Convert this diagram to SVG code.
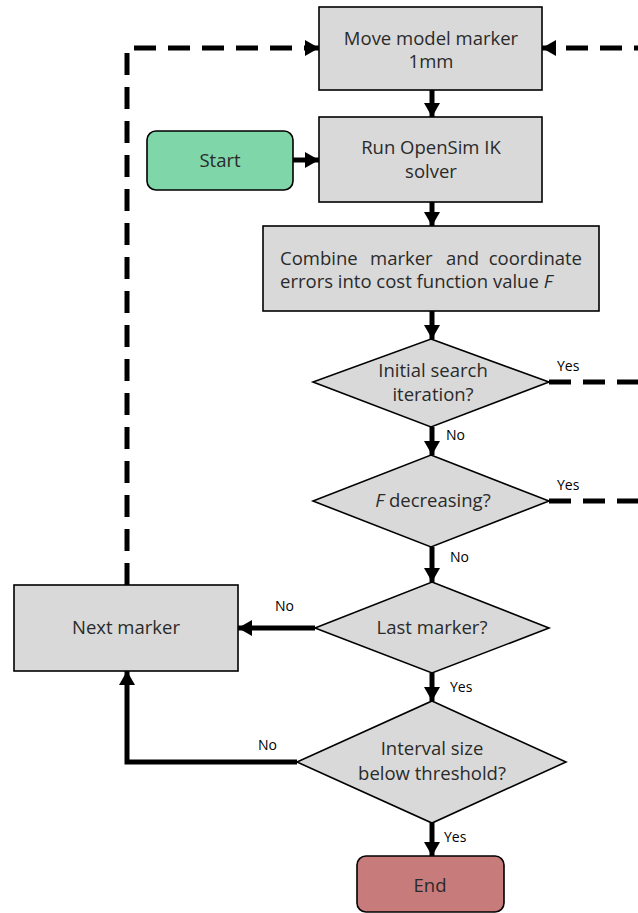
<svg xmlns="http://www.w3.org/2000/svg" width="638" height="913" viewBox="0 0 638 913">
<style>
.box{fill:#d9d9d9;stroke:#000;stroke-width:1.6}
.t{font-family:"Open Sans","Noto Sans",sans-serif;font-size:18.5px;fill:#2a2a2a;text-anchor:middle}
.lbl{font-family:"Open Sans","Noto Sans",sans-serif;font-size:14px;fill:#000}
.c{fill:none;stroke:#000;stroke-width:5}
.d{fill:none;stroke:#000;stroke-width:5;stroke-dasharray:22 12}
</style>
<defs>
<marker id="ah" markerUnits="userSpaceOnUse" markerWidth="18" markerHeight="18" viewBox="0 0 18 18" refX="16" refY="9" orient="auto">
<path d="M2,1 L16,9 L2,17 Z" fill="#000"/>
</marker>
</defs>
<g id="connectors">
<path class="c" d="M432,90 V117" marker-end="url(#ah)"/>
<path class="c" d="M293,160 H319" marker-end="url(#ah)"/>
<path class="c" d="M432,202 V226" marker-end="url(#ah)"/>
<path class="c" d="M432,311 V339" marker-end="url(#ah)"/>
<path class="c" d="M432,427 V455" marker-end="url(#ah)"/>
<path class="c" d="M432,547 V582" marker-end="url(#ah)"/>
<path class="c" d="M315,628 H238" marker-end="url(#ah)"/>
<path class="c" d="M432,673 V701" marker-end="url(#ah)"/>
<path class="c" d="M432,823 V856" marker-end="url(#ah)"/>
<path class="c" d="M297,762 H127 V671" marker-end="url(#ah)"/>
<path class="d" d="M127,585 V48 H319" marker-end="url(#ah)"/>
<path class="d" d="M549,382 H690"/>
<path class="d" d="M549,501 H690"/>
<path class="d" d="M690,48 H542" marker-end="url(#ah)"/>
<text class="lbl" x="557" y="371">Yes</text>
<text class="lbl" x="446" y="440">No</text>
<text class="lbl" x="557" y="490">Yes</text>
<text class="lbl" x="450" y="562">No</text>
<text class="lbl" x="275" y="611">No</text>
<text class="lbl" x="450" y="692">Yes</text>
<text class="lbl" x="258" y="750">No</text>
<text class="lbl" x="444" y="842">Yes</text>
</g>
<g id="move">
<rect class="box" x="319" y="7" width="223" height="83"/>
<text class="t" x="431" y="45">Move model marker</text>
<text class="t" x="431" y="68">1mm</text>
</g>
<g id="start">
<rect x="147" y="131" width="146" height="59" rx="9" fill="#7fd6a8" stroke="#000" stroke-width="1.6"/>
<text class="t" x="220" y="167">Start</text>
</g>
<g id="run">
<rect class="box" x="319" y="117" width="223" height="85"/>
<text class="t" x="431" y="154">Run OpenSim IK</text>
<text class="t" x="431" y="178">solver</text>
</g>
<g id="combine">
<rect class="box" x="263" y="226" width="336" height="85"/>
<text class="t" x="280" y="265" style="text-anchor:start">Combine</text>
<text class="t" x="370" y="265" style="text-anchor:start">marker</text>
<text class="t" x="446" y="265" style="text-anchor:start">and</text>
<text class="t" x="582" y="265" style="text-anchor:end">coordinate</text>
<text class="t" x="280" y="288" style="text-anchor:start">errors into cost function value <tspan font-style="italic">F</tspan></text>
</g>
<g id="initial">
<polygon class="box" points="431,339 549,382 431,427 313,382"/>
<text class="t" x="433" y="377">Initial search</text>
<text class="t" x="433" y="401">iteration?</text>
</g>
<g id="decreasing">
<polygon class="box" points="431,455 549,501 431,547 313,501"/>
<text class="t" x="433" y="507"><tspan font-style="italic">F</tspan> decreasing?</text>
</g>
<g id="last">
<polygon class="box" points="432,582 549,628 432,673 315,628"/>
<text class="t" x="432" y="634">Last marker?</text>
</g>
<g id="next">
<rect class="box" x="14" y="585" width="224" height="86"/>
<text class="t" x="126" y="634">Next marker</text>
</g>
<g id="interval">
<polygon class="box" points="432,701 566,762 432,823 297,762"/>
<text class="t" x="432" y="755">Interval size</text>
<text class="t" x="432" y="780">below threshold?</text>
</g>
<g id="end">
<rect x="357" y="856" width="147" height="56" rx="9" fill="#c87b7b" stroke="#000" stroke-width="1.6"/>
<text class="t" x="430" y="892">End</text>
</g>
</svg>
